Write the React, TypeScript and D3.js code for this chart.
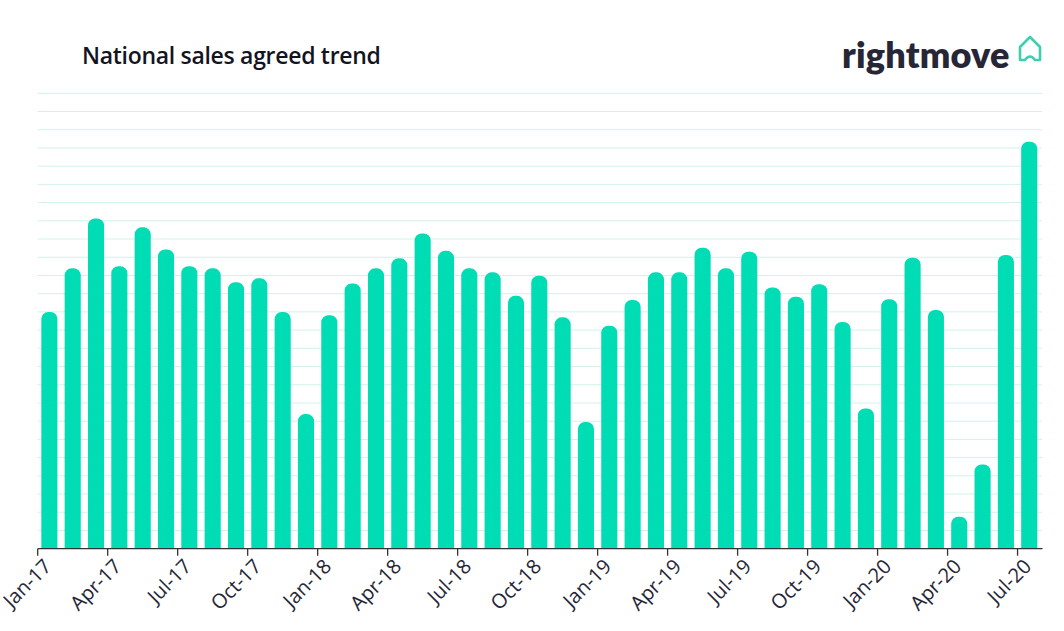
import React from "react";
import * as d3 from "d3";

const months: string[] = [
  "Jan-17","Feb-17","Mar-17","Apr-17","May-17","Jun-17","Jul-17","Aug-17","Sep-17","Oct-17","Nov-17","Dec-17",
  "Jan-18","Feb-18","Mar-18","Apr-18","May-18","Jun-18","Jul-18","Aug-18","Sep-18","Oct-18","Nov-18","Dec-18",
  "Jan-19","Feb-19","Mar-19","Apr-19","May-19","Jun-19","Jul-19","Aug-19","Sep-19","Oct-19","Nov-19","Dec-19",
  "Jan-20","Feb-20","Mar-20","Apr-20","May-20","Jun-20","Jul-20",
];

const salesAgreed: number[] = [
  13.0, 15.39, 18.13, 15.51, 17.64, 16.43, 15.51, 15.39, 14.63, 14.84, 13.0, 7.39,
  12.82, 14.56, 15.39, 15.94, 17.31, 16.35, 15.39, 15.17, 13.88, 14.98, 12.7, 6.96,
  12.24, 13.65, 15.17, 15.17, 16.52, 15.39, 16.3, 14.34, 13.83, 14.52, 12.45, 7.7,
  13.7, 15.97, 13.1, 1.75, 4.62, 16.12, 22.34,
];

const tickLabels: string[] = [
  "Jan-17","Apr-17","Jul-17","Oct-17","Jan-18","Apr-18","Jul-18","Oct-18",
  "Jan-19","Apr-19","Jul-19","Oct-19","Jan-20","Apr-20","Jul-20",
];

const gridValues: number[] = d3.range(1, 26);

const W = 1064;
const H = 631;
const left = 37.7;
const bandW = 23.33;
const right = left + bandW * months.length;
const y0 = 548.7;
const yTop = 93.3;

const BAR = "#00dcb4";
const GRID = "#d3f1ec";
const DARK = "#262637";

export default function App() {
  const x = d3.scaleBand<string>().domain(months).range([left, right]).paddingInner(0.31).paddingOuter(0.155);
  const y = d3.scaleLinear().domain([0, 25]).range([y0, yTop]);
  const bw = x.bandwidth();
  const r = 7;

  const barPath = (m: string, v: number) => {
    const x0 = x(m)!;
    const top = y(v);
    const p = d3.path();
    p.moveTo(x0, y0);
    p.lineTo(x0, top + r);
    p.arcTo(x0, top, x0 + r, top, r);
    p.lineTo(x0 + bw - r, top);
    p.arcTo(x0 + bw, top, x0 + bw, top + r, r);
    p.lineTo(x0 + bw, y0);
    p.closePath();
    return p.toString();
  };

  const tickX = (m: string) => left + months.indexOf(m) * bandW;

  return (
    <svg width={W} height={H} style={{ position: "absolute", left: 0, top: 0, background: "#fff" }}
      fontFamily="'Open Sans', 'Noto Sans', sans-serif">
      <text x={82} y={64} fontSize={23} fontWeight={600} fill="#14141f" letterSpacing={-0.3}>National sales agreed trend</text>

      <g>
        <text x={842} y={68} fontSize={36} fontWeight={800} fill={DARK} letterSpacing={0.2}
          fontFamily="Lato, sans-serif">rightmove</text>
        <path d="M1020,60 L1020,47 L1030,37 L1040,47 L1040,60 L1035,60 Q1030,53 1025,60 Z"
          fill="none" stroke="#3ccfb0" strokeWidth={2.6} strokeLinejoin="round" />
      </g>

      {gridValues.map((g) => (
        <line key={g} x1={left} x2={1042} y1={y(g)} y2={y(g)} stroke={GRID} strokeWidth={1} />
      ))}

      {months.map((m, i) => (
        <path key={m} d={barPath(m, salesAgreed[i])} fill={BAR} />
      ))}

      <line x1={left} x2={1042.5} y1={y0} y2={y0} stroke="#333" strokeWidth={1.3} />
      {tickLabels.map((t) => (
        <g key={t} transform={`translate(${tickX(t)},${y0})`}>
          <line y1={0} y2={7} stroke="#333" strokeWidth={1.3} />
          <text transform="translate(15,19) rotate(-45)" textAnchor="end" fontSize={20} fill={DARK}>{t}</text>
        </g>
      ))}
    </svg>
  );
}
